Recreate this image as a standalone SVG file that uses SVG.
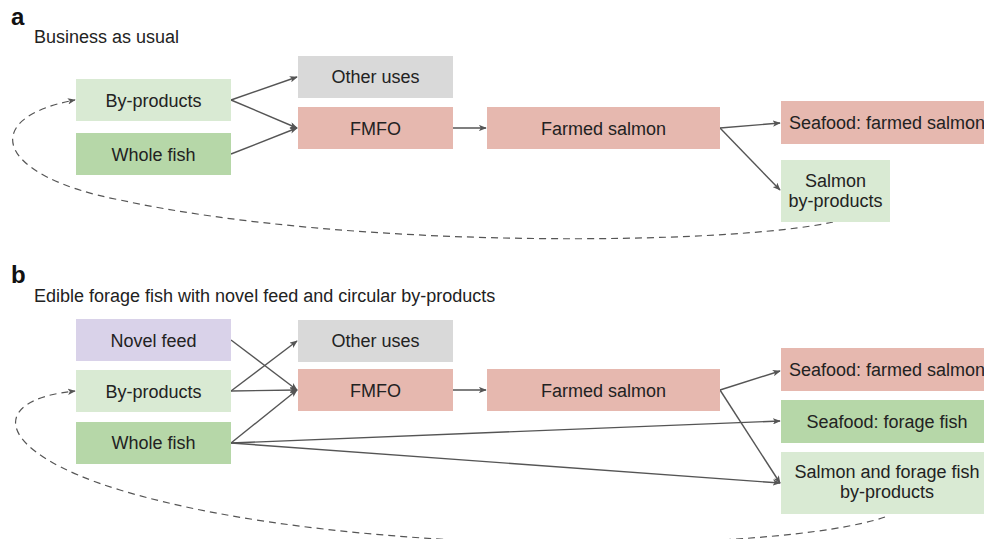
<svg xmlns="http://www.w3.org/2000/svg" width="984" height="539" viewBox="0 0 984 539">
<defs>
<style>
.lbl{font-family:"Liberation Sans",Arial,sans-serif;font-size:24px;font-weight:bold;fill:#111}
.sub{font-family:"Liberation Sans",Arial,sans-serif;font-size:18px;fill:#222}
.t{font-family:"Liberation Sans",Arial,sans-serif;font-size:18px;fill:#222;text-anchor:middle}
.pale{fill:#d9ead3}
.green{fill:#b6d7a8}
.grey{fill:#d9d9d9}
.red{fill:#e6b8af}
.purple{fill:#d9d2e9}
.c{fill:none;stroke:#555;stroke-width:1.4;marker-end:url(#ah)}
.d{fill:none;stroke:#555;stroke-width:1.2;stroke-dasharray:7 5;marker-end:url(#ah)}
</style>
<marker id="ah" viewBox="0 0 10 8" refX="9" refY="4" markerWidth="8" markerHeight="6.4" markerUnits="userSpaceOnUse" orient="auto">
<path d="M0,0 L10,4 L0,8 L2.5,4 z" fill="#555"/>
</marker>
</defs>
<rect width="984" height="539" fill="#fff"/>

<text class="lbl" x="11" y="25">a</text>
<text class="sub" x="34" y="43">Business as usual</text>
<text class="lbl" x="11" y="283">b</text>
<text class="sub" x="34" y="302">Edible forage fish with novel feed and circular by-products</text>

<g id="connectors">
<path class="c" d="M231,100 L297,77"/>
<path class="c" d="M231,100 L297,128"/>
<path class="c" d="M231,154 L297,128"/>
<path class="c" d="M453,128 L486,128"/>
<path class="c" d="M720,128 L780,123"/>
<path class="c" d="M720,128 L780,190"/>
<path class="d" d="M833,222 C730,245 350,250 120,200 C-5,176 -22,118 75,100"/>

<path class="c" d="M231,340 L297,390"/>
<path class="c" d="M231,391 L297,341"/>
<path class="c" d="M231,391 L297,390"/>
<path class="c" d="M231,443 L297,390"/>
<path class="c" d="M453,390 L486,390"/>
<path class="c" d="M720,390 L780,371"/>
<path class="c" d="M720,390 L780,483"/>
<path class="c" d="M231,443 L780,421"/>
<path class="c" d="M231,443 L780,483"/>
<path class="d" d="M885,517 C780,553 350,560 120,490 C-5,452 -15,400 75,391"/>
</g>

<g id="a-byproducts"><rect class="pale" x="76" y="79" width="155" height="42"/><text class="t" x="153.5" y="106.5">By-products</text></g>
<g id="a-wholefish"><rect class="green" x="76" y="133" width="155" height="42"/><text class="t" x="153.5" y="160.5">Whole fish</text></g>
<g id="a-otheruses"><rect class="grey" x="298" y="56" width="155" height="42"/><text class="t" x="375.5" y="83">Other uses</text></g>
<g id="a-fmfo"><rect class="red" x="298" y="107" width="155" height="42"/><text class="t" x="375.5" y="134.5">FMFO</text></g>
<g id="a-farmedsalmon"><rect class="red" x="487" y="107" width="233" height="42"/><text class="t" x="603.5" y="134.5">Farmed salmon</text></g>
<g id="a-seafood"><rect class="red" x="781" y="101" width="212" height="43"/><text class="t" x="887" y="128.5">Seafood: farmed salmon</text></g>
<g id="a-salmonbyproducts"><rect class="pale" x="781" y="160" width="109" height="62"/><text class="t" x="835.5" y="187">Salmon</text><text class="t" x="835.5" y="207">by-products</text></g>

<g id="b-novelfeed"><rect class="purple" x="76" y="319" width="155" height="42"/><text class="t" x="153.5" y="346.5">Novel feed</text></g>
<g id="b-byproducts"><rect class="pale" x="76" y="370" width="155" height="42"/><text class="t" x="153.5" y="397.5">By-products</text></g>
<g id="b-wholefish"><rect class="green" x="76" y="422" width="155" height="42"/><text class="t" x="153.5" y="449">Whole fish</text></g>
<g id="b-otheruses"><rect class="grey" x="298" y="320" width="155" height="42"/><text class="t" x="375.5" y="347">Other uses</text></g>
<g id="b-fmfo"><rect class="red" x="298" y="369" width="155" height="42"/><text class="t" x="375.5" y="396.5">FMFO</text></g>
<g id="b-farmedsalmon"><rect class="red" x="487" y="369" width="233" height="42"/><text class="t" x="603.5" y="396.5">Farmed salmon</text></g>
<g id="b-seafoodsalmon"><rect class="red" x="781" y="348" width="212" height="43"/><text class="t" x="887" y="375.5">Seafood: farmed salmon</text></g>
<g id="b-seafoodforage"><rect class="green" x="781" y="400" width="212" height="43"/><text class="t" x="887" y="427.5">Seafood: forage fish</text></g>
<g id="b-byproductsout"><rect class="pale" x="781" y="452" width="212" height="62"/><text class="t" x="887" y="478">Salmon and forage fish</text><text class="t" x="887" y="498">by-products</text></g>
</svg>
